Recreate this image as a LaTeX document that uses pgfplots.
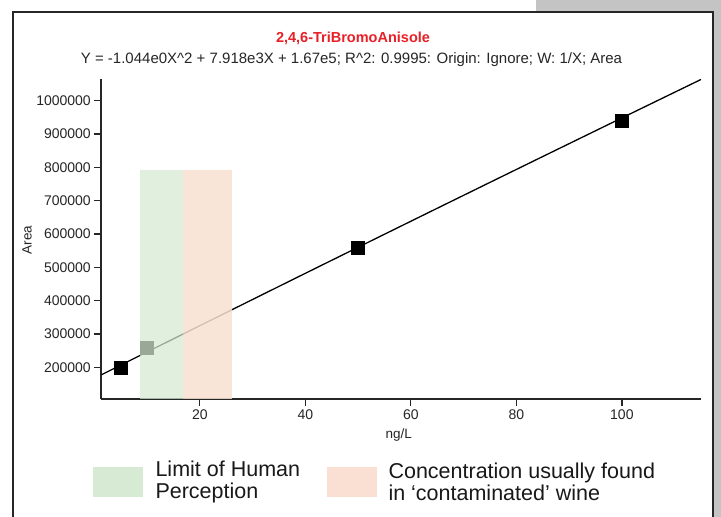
\documentclass[border=0pt]{standalone}
\usepackage{pgfplots}
\pgfplotsset{compat=1.18}
\usepackage{fontspec}
\setmainfont{Liberation Sans}
\definecolor{bandgreen}{RGB}{214,234,212}
\definecolor{bandorange}{RGB}{249,224,210}
\definecolor{titlered}{RGB}{232,32,40}
\definecolor{pagegray}{RGB}{196,196,196}
\begin{document}
\begin{tikzpicture}
\useasboundingbox (0,0) rectangle (721pt,517pt);
\begin{scope}
\clip (0,0) rectangle (721pt,517pt);
\fill[pagegray] (536pt,0pt) rectangle (721pt,517pt);
\filldraw[fill=white, draw=black!85, line width=1.5pt] (13pt,-10pt) rectangle (713pt,505pt);
\end{scope}
\node[font=\fontsize{14.5}{16}\selectfont\bfseries, text=titlered] at (353pt,479pt) {2,4,6-TriBromoAnisole};
\node[font=\fontsize{15}{17}\selectfont, text=black!85] at (351.5pt,457pt) {Y = -1.044e0X\string^2 + 7.918e3X + 1.67e5; R\string^2: 0.9995: Origin: Ignore; W: 1/X; Area};
\begin{axis}[
  at={(101.3pt,118pt)}, anchor=south west,
  scale only axis, width=599.7pt, height=319.6pt,
  xmin=1.33, xmax=115, ymin=105000, ymax=1064000,
  axis lines=left,
  axis line style={-, line width=1.7pt, black!85},
  xtick={20,40,60,80,100},
  ytick={200000,300000,400000,500000,600000,700000,800000,900000,1000000},
  scaled y ticks=false,
  yticklabel style={/pgf/number format/fixed, /pgf/number format/1000 sep={}},
  /pgf/number format/assume math mode=true,
  tick align=outside,
  major tick length=7pt,
  tick style={line width=1.3pt, black!85},
  ticklabel style={font=\fontsize{14}{16}\selectfont, text=black!85},
  xlabel={ng/L}, ylabel={Area},
  label style={font=\fontsize{13.5}{15}\selectfont, text=black!85},
  xlabel style={at={(axis description cs:0.496,-0.113)}, anchor=center},
  ylabel style={at={(axis description cs:-0.124,0.497)}, anchor=center},
  clip=true,
  clip marker paths=true,
]
\addplot[black, line width=1.3pt, smooth] coordinates {
  (1.33,177500) (10,246076) (20,324942) (40,482050) (60,638322) (80,793758) (100,948360) (115,1063763)};
\addplot[only marks, mark=square*, mark size=6.5pt, black] coordinates {
  (5,200000) (10,258000) (50,558000) (100,940000)};
\addplot[draw=none, fill=bandgreen, fill opacity=0.72] coordinates {
  (8.7,105000) (16.8,105000) (16.8,792000) (8.7,792000)} -- cycle;
\addplot[draw=none, fill=bandorange, fill opacity=0.85] coordinates {
  (16.8,105000) (26.1,105000) (26.1,792000) (16.8,792000)} -- cycle;
\end{axis}
\fill[bandgreen] (93pt,20pt) rectangle (143pt,50pt);
\fill[bandorange] (327pt,20pt) rectangle (377pt,50pt);
\node[anchor=west, align=left, font=\fontsize{21.5}{22.5}\selectfont, text=black!90] at (152pt,35pt) {Limit of Human\\Perception};
\node[anchor=west, align=left, font=\fontsize{21.5}{22.5}\selectfont, text=black!90] at (385pt,35pt) {Concentration usually found\\in ‘contaminated’ wine};
\end{tikzpicture}
\end{document}
